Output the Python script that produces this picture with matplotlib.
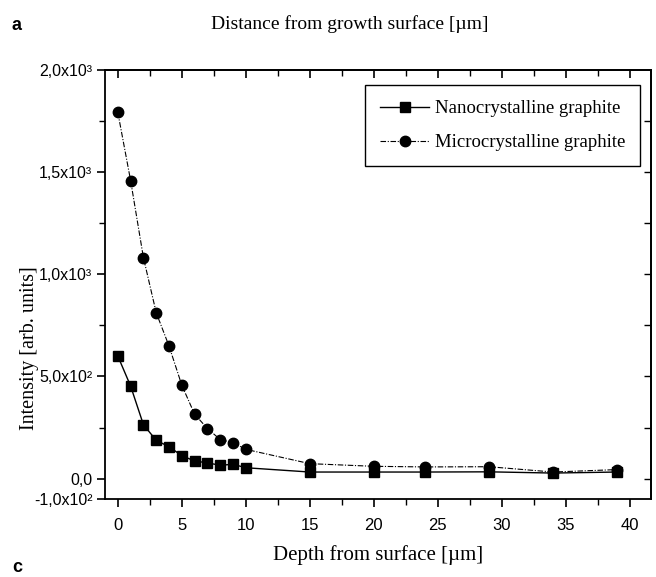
import numpy as np
import matplotlib
matplotlib.use("Agg")
import matplotlib.pyplot as plt
from matplotlib.ticker import MultipleLocator

# depth from surface (um) and integrated intensity (arb. units)
depth = [0, 1, 2, 3, 4, 5, 6, 7, 8, 9, 10, 15, 20, 24, 29, 34, 39]
nano = [600, 453, 264, 187, 156, 112, 86, 77, 65, 70, 53, 32, 32, 32, 33, 27, 32]
micro = [1793, 1459, 1082, 812, 649, 457, 315, 245, 191, 176, 143, 73, 60, 57, 58, 32, 44]

xticks = [0, 5, 10, 15, 20, 25, 30, 35, 40]
yticks = [-100, 0, 500, 1000, 1500, 2000]
ylabels = ['-1,0x10²', '0,0', '5,0x10²', '1,0x10³', '1,5x10³', '2,0x10³']

narrow = ['Liberation Sans Narrow', 'Liberation Sans', 'DejaVu Sans']
serif = ['Liberation Serif', 'DejaVu Serif']

fig = plt.figure(figsize=(6.56, 5.77), dpi=100)
ax = fig.add_axes([105/656, 1-499/577, 546/656, 429/577])

ax.plot(depth, nano, color='k', lw=1.0, ls='-', marker='s', ms=7,
        label='Nanocrystalline graphite')
ax.plot(depth, micro, color='k', lw=0.8, ls=(0, (5, 1.5, 1, 1.5)), marker='o', ms=7.5,
        label='Microcrystalline graphite')

ax.set_xlim(-1.0, 41.65)
ax.set_ylim(-100, 2000)

ax.set_xticks(xticks)
ax.set_xticklabels([str(t) for t in xticks], family=narrow, fontsize=12)
ax.xaxis.set_minor_locator(MultipleLocator(2.5))
ax.set_yticks(yticks)
ax.set_yticklabels(ylabels, family=narrow, fontsize=11.5)
ax.yaxis.set_minor_locator(MultipleLocator(250))

ax.tick_params(which='major', direction='out', length=6, width=1.2, pad=3)
ax.tick_params(which='minor', direction='out', length=4, width=1.0)
ax.tick_params(axis='x', pad=8)

# mirrored axes on top and right with inward ticks
top = ax.secondary_xaxis('top')
top.set_xticks(xticks)
top.xaxis.set_minor_locator(MultipleLocator(2.5))
top.tick_params(which='major', direction='in', length=6, width=1.2, labeltop=False)
top.tick_params(which='minor', direction='in', length=4, width=1.0)
top.set_xticklabels([])

right = ax.secondary_yaxis('right')
right.set_yticks(np.arange(0, 2000, 250))
right.tick_params(which='major', direction='in', length=5, width=1.0)
right.set_yticklabels([])

for s in list(ax.spines.values()) + [top.spines['top'], right.spines['right']]:
    s.set_linewidth(1.3)

leg = ax.legend(loc='upper right', bbox_to_anchor=(0.98, 0.965), borderaxespad=0,
                frameon=True, fancybox=False, edgecolor='k', framealpha=1,
                handlelength=2.6, handletextpad=0.3, borderpad=0.8, labelspacing=0.9,
                prop={'family': serif, 'size': 13.5})
leg.get_frame().set_linewidth(1.0)

fig.text(350/656, 1-24/577, 'Distance from growth surface [µm]', family=serif,
         fontsize=14, ha='center', va='center')
fig.text(378/656, 1-555/577, 'Depth from surface [µm]', family=serif,
         fontsize=15, ha='center', va='center')
fig.text(30/656, 1-348/577, 'Intensity [arb. units]', family=serif,
         fontsize=14.5, ha='center', va='center', rotation=90)
fig.text(12/656, 1-26/577, 'a', family=['Liberation Sans', 'DejaVu Sans'],
         fontsize=13, fontweight='bold', ha='left', va='center')
fig.text(12/656, 1-568/577, 'c', family=['Liberation Sans', 'DejaVu Sans'],
         fontsize=13, fontweight='bold', ha='left', va='center')

fig.savefig('out.png', dpi=100)
